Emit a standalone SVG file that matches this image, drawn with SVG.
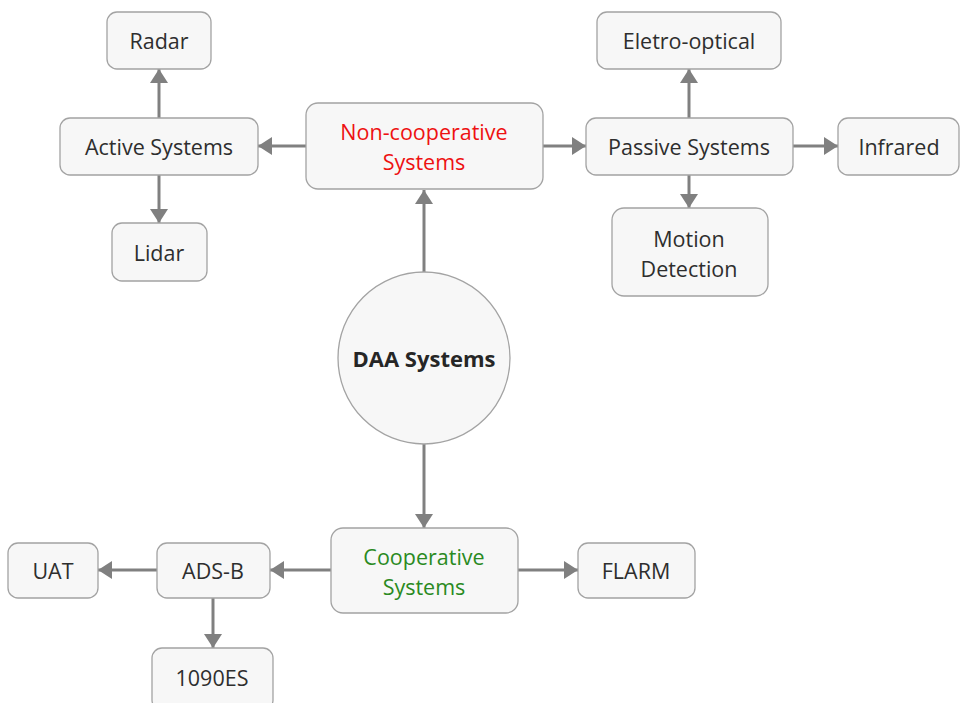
<svg xmlns="http://www.w3.org/2000/svg" width="960" height="703" viewBox="0 0 960 703">
  <style>
    .box { fill: #f7f7f7; stroke: #a3a3a3; stroke-width: 1.3; }
    .lbl { font-family: "Open Sans", "Noto Sans", "Liberation Sans", sans-serif; font-size: 21.5px; fill: #2e2e2e; text-anchor: middle; dominant-baseline: central; }
    .red { fill: #ee1111; }
    .green { fill: #2a8a22; }
    .bold { font-weight: bold; font-size: 22px; fill: #262626; }
    .edge { stroke: #808080; stroke-width: 3; fill: none; marker-end: url(#arrow); }
  </style>
  <defs>
    <marker id="arrow" markerUnits="userSpaceOnUse" markerWidth="14" markerHeight="18" refX="14" refY="9" orient="auto">
      <path d="M0,0 L14,9 L0,18 Z" fill="#808080"/>
    </marker>
  </defs>
  <rect width="960" height="703" fill="#ffffff"/>

  <g id="connectors">
    <line class="edge" x1="424" y1="272" x2="424" y2="190"/>
    <line class="edge" x1="424" y1="444" x2="424" y2="528"/>
    <line class="edge" x1="306" y1="146" x2="258" y2="146"/>
    <line class="edge" x1="543" y1="146" x2="586" y2="146"/>
    <line class="edge" x1="159" y1="118" x2="159" y2="69"/>
    <line class="edge" x1="159" y1="175" x2="159" y2="223"/>
    <line class="edge" x1="689" y1="118" x2="689" y2="69"/>
    <line class="edge" x1="689" y1="175" x2="689" y2="208"/>
    <line class="edge" x1="793" y1="146" x2="838" y2="146"/>
    <line class="edge" x1="331" y1="570" x2="270" y2="570"/>
    <line class="edge" x1="518" y1="570" x2="578" y2="570"/>
    <line class="edge" x1="157" y1="570" x2="98" y2="570"/>
    <line class="edge" x1="213" y1="598" x2="213" y2="648"/>
  </g>

  <g id="daa">
    <circle class="box" cx="424" cy="358" r="86"/>
    <text class="lbl bold" x="424" y="358">DAA Systems</text>
  </g>

  <g id="non-cooperative">
    <rect class="box" x="306" y="103" width="237" height="86" rx="12"/>
    <text class="lbl red" x="424" y="131">Non-cooperative</text>
    <text class="lbl red" x="424" y="161">Systems</text>
  </g>

  <g id="active">
    <rect class="box" x="60" y="118" width="198" height="57" rx="10"/>
    <text class="lbl" x="159" y="146">Active Systems</text>
  </g>

  <g id="radar">
    <rect class="box" x="107" y="12" width="104" height="57" rx="10"/>
    <text class="lbl" x="159" y="40">Radar</text>
  </g>

  <g id="lidar">
    <rect class="box" x="112" y="223" width="95" height="58" rx="10"/>
    <text class="lbl" x="159" y="252">Lidar</text>
  </g>

  <g id="passive">
    <rect class="box" x="586" y="118" width="207" height="57" rx="10"/>
    <text class="lbl" x="689" y="146">Passive Systems</text>
  </g>

  <g id="electro-optical">
    <rect class="box" x="597" y="12" width="184" height="57" rx="10"/>
    <text class="lbl" x="689" y="40">Eletro-optical</text>
  </g>

  <g id="infrared">
    <rect class="box" x="838" y="118" width="121" height="57" rx="10"/>
    <text class="lbl" x="899" y="146">Infrared</text>
  </g>

  <g id="motion">
    <rect class="box" x="612" y="208" width="156" height="88" rx="12"/>
    <text class="lbl" x="689" y="238">Motion</text>
    <text class="lbl" x="689" y="268">Detection</text>
  </g>

  <g id="cooperative">
    <rect class="box" x="331" y="528" width="187" height="85" rx="12"/>
    <text class="lbl green" x="424" y="556">Cooperative</text>
    <text class="lbl green" x="424" y="586">Systems</text>
  </g>

  <g id="ads-b">
    <rect class="box" x="157" y="543" width="113" height="55" rx="10"/>
    <text class="lbl" x="213" y="570">ADS-B</text>
  </g>

  <g id="uat">
    <rect class="box" x="8" y="543" width="90" height="55" rx="10"/>
    <text class="lbl" x="53" y="570">UAT</text>
  </g>

  <g id="flarm">
    <rect class="box" x="578" y="543" width="117" height="55" rx="10"/>
    <text class="lbl" x="636" y="570">FLARM</text>
  </g>

  <g id="es1090">
    <rect class="box" x="152" y="648" width="121" height="62" rx="10"/>
    <text class="lbl" x="212" y="677">1090ES</text>
  </g>
</svg>
